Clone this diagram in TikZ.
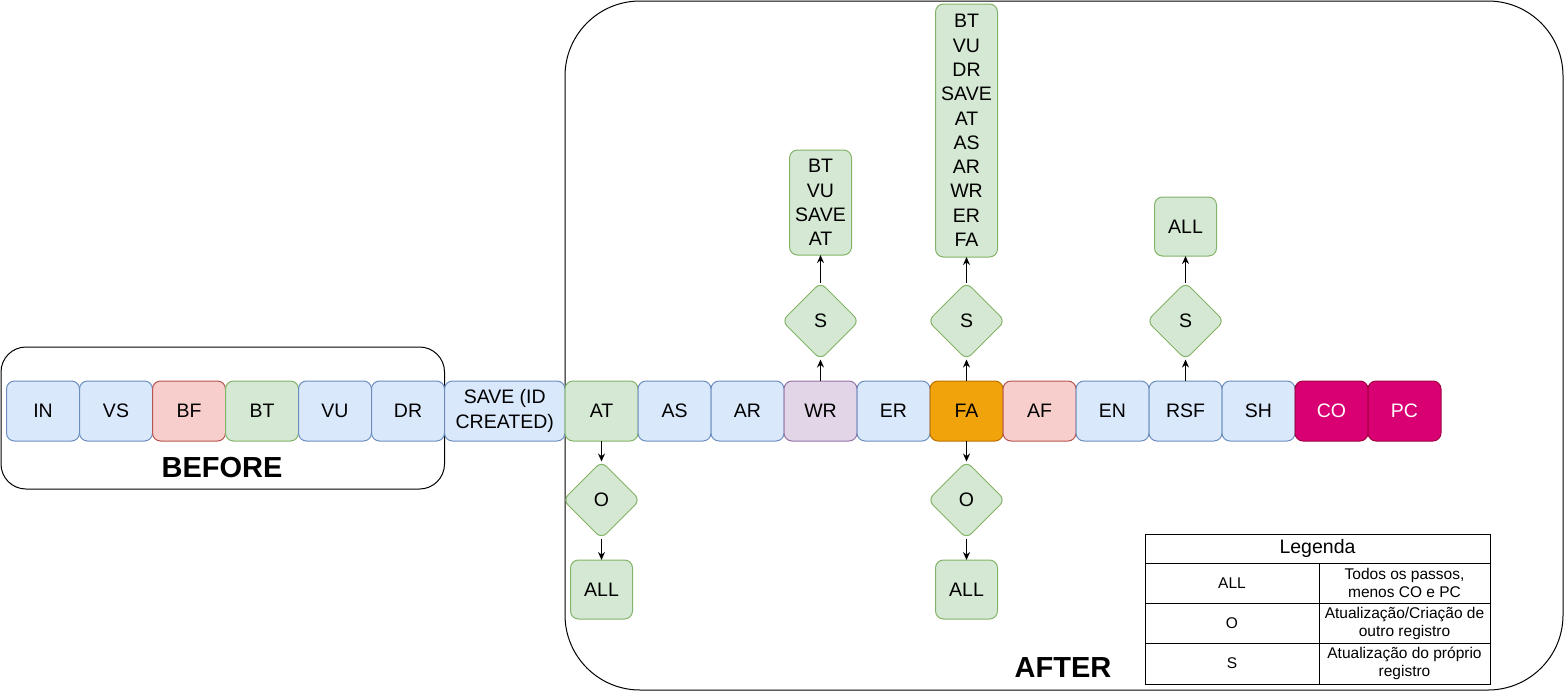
\documentclass[tikz,border=0pt]{standalone}
\usepackage{fontspec}
\setmainfont{Liberation Sans}
\usetikzlibrary{shapes.geometric,arrows.meta}
\definecolor{bfill}{HTML}{DAE8FC}\definecolor{bline}{HTML}{6C8EBF}
\definecolor{rfill}{HTML}{F8CECC}\definecolor{rline}{HTML}{B85450}
\definecolor{gfill}{HTML}{D5E8D4}\definecolor{gline}{HTML}{82B366}
\definecolor{pfill}{HTML}{E1D5E7}\definecolor{pline}{HTML}{9673A6}
\definecolor{ofill}{HTML}{F0A30A}\definecolor{oline}{HTML}{BD7000}
\definecolor{mfill}{HTML}{D80073}\definecolor{mline}{HTML}{A50040}
\tikzset{
  x=1pt, y=-1pt,
  every node/.style={font=\fontsize{19.5}{24.3}\selectfont, text=black},
  stepbox/.style={rectangle, rounded corners=8pt, line width=1pt, minimum width=73pt, minimum height=60pt, inner sep=0pt, outer sep=0pt, align=center},
  bluebox/.style={stepbox, fill=bfill, draw=bline},
  redbox/.style={stepbox, fill=rfill, draw=rline},
  greenbox/.style={stepbox, fill=gfill, draw=gline},
  purplebox/.style={stepbox, fill=pfill, draw=pline},
  orangebox/.style={stepbox, fill=ofill, draw=oline},
  magbox/.style={stepbox, fill=mfill, draw=mline, text=white},
  stackbox/.style={rectangle, rounded corners=8pt, line width=1pt, fill=gfill, draw=gline, minimum width=62pt, inner sep=0pt, outer sep=0pt, align=center},
  dia/.style={diamond, rounded corners=7pt, line width=1pt, fill=gfill, draw=gline, minimum width=77pt, minimum height=77pt, inner sep=0pt, outer sep=0pt},
  container/.style={draw=black, line width=1pt},
  arr/.style={-{Stealth[length=8pt,width=7pt]}, line width=1.3pt, black},
  cell/.style={rectangle, draw=black, fill=white, line width=1pt, inner sep=0pt, outer sep=0pt, align=center, font=\fontsize{15.5}{18}\selectfont},
  bigtitle/.style={font=\fontsize{29}{34}\selectfont\bfseries}
}
\begin{document}
\begin{tikzpicture}
\useasboundingbox (0,0) rectangle (1565,691);
% containers
\draw[container, rounded corners=25pt] (1,347) rectangle (444.5,489);
\draw[container, rounded corners=75pt] (565,1) rectangle (1563,690);
\node[bigtitle] (before) at (222,468) {BEFORE};
\node[bigtitle] (after) at (1063,668) {AFTER};
% main row
\node[bluebox] (IN) at (43,411) {IN};
\node[bluebox] (VS) at (116,411) {VS};
\node[redbox] (BF) at (189,411) {BF};
\node[greenbox] (BT) at (262,411) {BT};
\node[bluebox] (VU) at (335,411) {VU};
\node[bluebox] (DR) at (408,411) {DR};
\node[bluebox, minimum width=120.5pt] (SAVE) at (504.75,411) {SAVE (ID\\CREATED)};
\node[greenbox] (AT) at (601.5,411) {AT};
\node[bluebox] (AS) at (674.5,411) {AS};
\node[bluebox] (AR) at (747.5,411) {AR};
\node[purplebox] (WR) at (820.5,411) {WR};
\node[bluebox] (ER) at (893.5,411) {ER};
\node[orangebox] (FA) at (966.5,411) {FA};
\node[redbox] (AF) at (1039.5,411) {AF};
\node[bluebox] (EN) at (1112.5,411) {EN};
\node[bluebox] (RSF) at (1185.5,411) {RSF};
\node[bluebox] (SH) at (1258.5,411) {SH};
\node[magbox] (CO) at (1331.5,411) {CO};
\node[magbox] (PC) at (1404.5,411) {PC};
% diamonds
\node[dia] (sWR) at (820.5,321) {S};
\node[dia] (sFA) at (966.5,321) {S};
\node[dia] (sRSF) at (1185.5,321) {S};
\node[dia] (oAT) at (601.5,500) {O};
\node[dia] (oFA) at (966.5,500) {O};
% stacks
\node[stackbox, minimum height=105pt] (tWR) at (820.5,202.5) {BT\\VU\\SAVE\\AT};
\node[stackbox, minimum height=253pt] (tFA) at (966.5,130.5) {BT\\VU\\DR\\SAVE\\AT\\AS\\AR\\WR\\ER\\FA};
\node[stackbox, minimum height=59pt] (tRSF) at (1185.5,226.5) {ALL};
\node[stackbox, minimum height=59pt] (bAT) at (601.5,589.5) {ALL};
\node[stackbox, minimum height=59pt] (bFA) at (966.5,589.5) {ALL};
% arrows
\draw[arr] (WR.north) -- (sWR.south);
\draw[arr] (sWR.north) -- (tWR.south);
\draw[arr] (FA.north) -- (sFA.south);
\draw[arr] (sFA.north) -- (tFA.south);
\draw[arr] (RSF.north) -- (sRSF.south);
\draw[arr] (sRSF.north) -- (tRSF.south);
\draw[arr] (AT.south) -- (oAT.north);
\draw[arr] (oAT.south) -- (bAT.north);
\draw[arr] (FA.south) -- (oFA.north);
\draw[arr] (oFA.south) -- (bFA.north);
% legend
\node[cell, minimum width=345pt, minimum height=29pt, font=\fontsize{19.5}{22}\selectfont] (leg) at (1317.5,548.5) {Legenda};
\node[cell, minimum width=174pt, minimum height=40pt] (l1) at (1232,583) {ALL};
\node[cell, minimum width=171pt, minimum height=40pt] (r1) at (1404.5,583) {Todos os passos,\\menos CO e PC};
\node[cell, minimum width=174pt, minimum height=40pt] (l2) at (1232,623) {O};
\node[cell, minimum width=171pt, minimum height=40pt] (r2) at (1404.5,623) {Atualização/Criação de\\outro registro};
\node[cell, minimum width=174pt, minimum height=41pt] (l3) at (1232,663.5) {S};
\node[cell, minimum width=171pt, minimum height=41pt] (r3) at (1404.5,663.5) {Atualização do próprio\\registro};
\end{tikzpicture}
\end{document}
